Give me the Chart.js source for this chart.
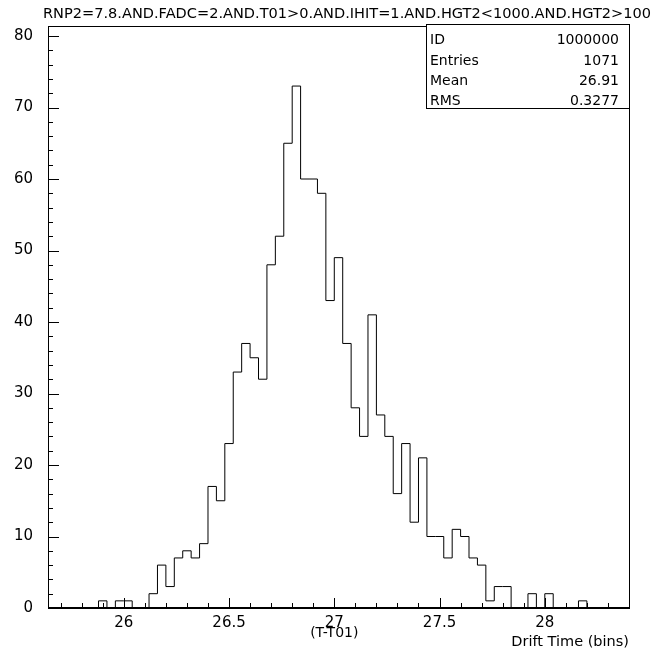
<!DOCTYPE html>
<html>
<head>
<meta charset="utf-8">
<script src="https://cdn.jsdelivr.net/npm/chart.js@4.4.1/dist/chart.umd.min.js"></script>
<style>
  html, body { margin: 0; padding: 0; background: #fff; }
  #wrap { width: 654px; height: 654px; }
</style>
</head>
<body>
<div id="wrap"><canvas id="c" width="654" height="654"></canvas></div>
<script>
// histogramme : 69 bins de 0.04 depuis 25.64
const binStart = 25.64;
const binWidth = 0.04;
const counts = [
  0, 0, 0, 0, 0, 0, 1, 0, 1, 1, 0, 0,
  2, 6, 3, 7, 8, 7, 9, 17, 15, 23, 33,
  37, 35, 32, 48, 52, 65, 73, 60, 60, 58,
  43, 49, 37, 28, 24, 41, 27, 24, 16, 23, 12, 21,
  10, 10, 7, 11, 10, 7, 6, 1, 3, 3,
  0, 0, 2, 0, 2, 0, 0, 0, 1,
  0, 0, 0, 0, 0
];
const xTicks = [26, 26.5, 27, 27.5, 28];
const yTicks = [0, 10, 20, 30, 40, 50, 60, 70, 80];
const titleText = 'RNP2=7.8.AND.FADC=2.AND.T01>0.AND.IHIT=1.AND.HGT2<1000.AND.HGT2>100';
const statLabels = ['ID', 'Entries', 'Mean', 'RMS'];
const statValues = ['1000000', '1071', '26.91', '0.3277'];

const FONT = "'DejaVu Sans', sans-serif";

// points du contour : chaque point = bord gauche du bin
const points = counts.map((c, i) => ({ x: +(binStart + i * binWidth).toFixed(2), y: c }));
points.push({ x: +(binStart + counts.length * binWidth).toFixed(2), y: counts[counts.length - 1] });

const framePlugin = {
    id: 'frame',
    afterDraw(chart) {
        const ctx = chart.ctx;
        const a = chart.chartArea;
        const xs = chart.scales.x, ys = chart.scales.y;
        ctx.save();
        ctx.strokeStyle = '#000';
        ctx.lineWidth = 1;
        ctx.strokeRect(a.left + 0.5, a.top + 0.5, a.right - a.left, a.bottom - a.top);
        ctx.lineWidth = 2;
        ctx.beginPath();
        ctx.moveTo(a.left, a.bottom);
        ctx.lineTo(a.right + 1, a.bottom);
        ctx.stroke();

        // ticks vers l'intérieur
        ctx.lineWidth = 1;
        ctx.beginPath();
        for (let v = 0; v <= 80; v += 2) {
            const y = Math.round(ys.getPixelForValue(v)) + 0.5;
            const len = v % 10 === 0 ? 11 : 5;
            ctx.moveTo(a.left, y);
            ctx.lineTo(a.left + len, y);
        }
        for (let k = 257; k <= 283; k++) {
            const v = k / 10;
            const x = Math.round(xs.getPixelForValue(v)) + 0.5;
            const len = k % 5 === 0 ? 10 : 5;
            ctx.moveTo(x, a.bottom);
            ctx.lineTo(x, a.bottom - len);
        }
        ctx.stroke();

        ctx.fillStyle = '#000';
        // titre
        ctx.font = '14px ' + FONT;
        ctx.textBaseline = 'alphabetic';
        ctx.textAlign = 'left';
        const w = ctx.measureText(titleText).width;
        ctx.save();
        ctx.translate(43, 18);
        ctx.scale(608 / w, 1);
        ctx.fillText(titleText, 0, 0);
        ctx.restore();

        // boîte de stats
        const bx = 426, by = 24, bw = 203, bh = 84;
        ctx.fillStyle = '#fff';
        ctx.fillRect(bx, by, bw, bh);
        ctx.strokeStyle = '#000';
        ctx.strokeRect(bx + 0.5, by + 0.5, bw, bh);
        ctx.fillStyle = '#000';
        ctx.font = '14px ' + FONT;
        const base = [43.5, 64.5, 85, 105];
        statLabels.forEach((lab, i) => {
            ctx.textAlign = 'left';
            ctx.fillText(lab, 430, base[i]);
            ctx.textAlign = 'right';
            ctx.fillText(statValues[i], 619, base[i]);
        });

        // titres des axes
        ctx.textAlign = 'center';
        ctx.fillText('(T-T01)', xs.getPixelForValue(27), 637);
        ctx.textAlign = 'right';
        ctx.font = '14.5px ' + FONT;
        ctx.fillText('Drift Time (bins)', 629, 646);
        ctx.restore();
    }
};

new Chart(document.getElementById('c'), {
    type: 'line',
    data: {
        datasets: [{
            data: points,
            stepped: 'before',
            borderColor: '#000',
            borderWidth: 1,
            pointRadius: 0,
            fill: false
        }]
    },
    options: {
        responsive: false,
        animation: false,
        events: [],
        layout: { padding: { left: 0, right: 25, top: 26, bottom: 0 } },
        plugins: { legend: { display: false }, tooltip: { enabled: false } },
        scales: {
            x: {
                type: 'linear',
                min: 25.64,
                max: 28.40,
                grid: { display: false, drawTicks: false },
                border: { display: false },
                afterBuildTicks: s => { s.ticks = xTicks.map(v => ({ value: v })); },
                afterFit: s => { s.height = 46; },
                ticks: {
                    color: '#000',
                    font: { family: FONT, size: 15 },
                    padding: 6,
                    maxRotation: 0,
                    callback: v => String(v)
                }
            },
            y: {
                min: 0,
                max: 81.4,
                grid: { display: false, drawTicks: false },
                border: { display: false },
                afterBuildTicks: s => { s.ticks = yTicks.map(v => ({ value: v })); },
                afterFit: s => { s.width = 48; },
                ticks: {
                    color: '#000',
                    font: { family: FONT, size: 15 },
                    padding: 15,
                    callback: v => String(v)
                }
            }
        }
    },
    plugins: [framePlugin]
});
</script>
</body>
</html>
